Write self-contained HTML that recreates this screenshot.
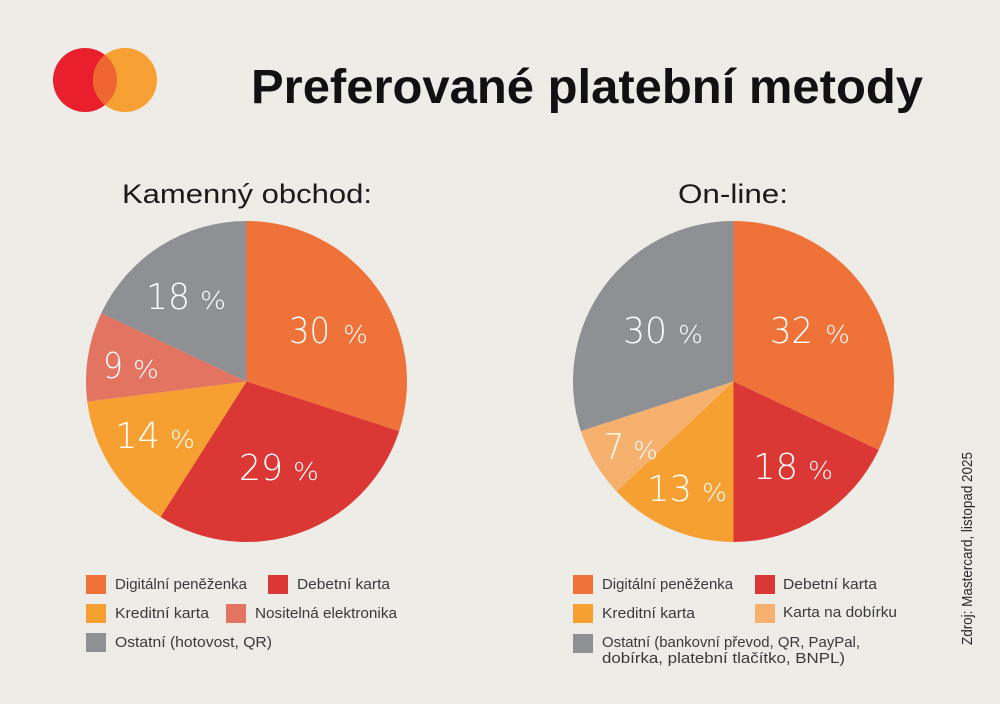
<!DOCTYPE html>
<html>
<head>
<meta charset="utf-8">
<style>
html,body{margin:0;padding:0;background:#EEECE7;}
svg{display:block;}
text{font-family:"Liberation Sans",sans-serif;}
.num{font-family:"DejaVu Sans","Liberation Sans",sans-serif;font-weight:200;}
</style>
</head>
<body>
<svg width="1000" height="704" viewBox="0 0 1000 704" xmlns="http://www.w3.org/2000/svg">
<rect x="0" y="0" width="1000" height="704" fill="#EEECE7"/>

<!-- logo -->
<circle cx="85" cy="80" r="32" fill="#EA1F2E"/>
<circle cx="125" cy="80" r="32" fill="#F7A033"/>
<path d="M105,55 A32,32 0 0 1 105,105 A32,32 0 0 1 105,55 Z" fill="#EF6630"/>

<!-- title -->
<text x="251" y="103" font-size="48" font-weight="bold" fill="#111114" textLength="672" lengthAdjust="spacingAndGlyphs">Preferované platební metody</text>

<!-- subtitles -->
<text x="122" y="203" font-size="27" fill="#1a1a1a" textLength="250" lengthAdjust="spacingAndGlyphs">Kamenný obchod:</text>
<text x="678" y="203" font-size="27" fill="#1a1a1a" textLength="110" lengthAdjust="spacingAndGlyphs">On-line:</text>

<!-- left pie -->
<g>
<path d="M246.5,381.5 L246.5,221 A160.5,160.5 0 0 1 399.15,431.1 Z" fill="#EF7338"/>
<path d="M246.5,381.5 L399.15,431.1 A160.5,160.5 0 0 1 160.5,517.0 Z" fill="#DB3734"/>
<path d="M246.5,381.5 L160.5,517.0 A160.5,160.5 0 0 1 87.27,401.62 Z" fill="#F7A032"/>
<path d="M246.5,381.5 L87.27,401.62 A160.5,160.5 0 0 1 101.27,313.16 Z" fill="#E27461"/>
<path d="M246.5,381.5 L101.27,313.16 A160.5,160.5 0 0 1 246.5,221 Z" fill="#8F9094"/>
</g>
<g fill="#ffffff">
<text class="num" x="289" y="343" font-size="36" textLength="41" lengthAdjust="spacingAndGlyphs">30</text>
<text class="num" x="343" y="343" font-size="25" textLength="25" lengthAdjust="spacingAndGlyphs">%</text>
<text class="num" x="146" y="309" font-size="36" textLength="44" lengthAdjust="spacingAndGlyphs">18</text>
<text class="num" x="200" y="309" font-size="25" textLength="26" lengthAdjust="spacingAndGlyphs">%</text>
<text class="num" x="103" y="378" font-size="36" textLength="20" lengthAdjust="spacingAndGlyphs">9</text>
<text class="num" x="133" y="378" font-size="25" textLength="26" lengthAdjust="spacingAndGlyphs">%</text>
<text class="num" x="115" y="448" font-size="36" textLength="45" lengthAdjust="spacingAndGlyphs">14</text>
<text class="num" x="170" y="448" font-size="25" textLength="25" lengthAdjust="spacingAndGlyphs">%</text>
<text class="num" x="239" y="480" font-size="36" textLength="44" lengthAdjust="spacingAndGlyphs">29</text>
<text class="num" x="293" y="480" font-size="25" textLength="26" lengthAdjust="spacingAndGlyphs">%</text>
</g>

<!-- right pie -->
<g>
<path d="M733.5,381.5 L733.5,221 A160.5,160.5 0 0 1 878.73,449.84 Z" fill="#EF7338"/>
<path d="M733.5,381.5 L878.73,449.84 A160.5,160.5 0 0 1 733.5,542 Z" fill="#DB3734"/>
<path d="M733.5,381.5 L733.5,542 A160.5,160.5 0 0 1 616.5,491.37 Z" fill="#F7A032"/>
<path d="M733.5,381.5 L616.5,491.37 A160.5,160.5 0 0 1 580.85,431.1 Z" fill="#F5B16D"/>
<path d="M733.5,381.5 L580.85,431.1 A160.5,160.5 0 0 1 733.5,221 Z" fill="#8F9094"/>
</g>
<g fill="#ffffff">
<text class="num" x="623" y="343" font-size="36" textLength="44" lengthAdjust="spacingAndGlyphs">30</text>
<text class="num" x="678" y="343" font-size="25" textLength="25" lengthAdjust="spacingAndGlyphs">%</text>
<text class="num" x="770" y="343" font-size="36" textLength="43" lengthAdjust="spacingAndGlyphs">32</text>
<text class="num" x="825" y="343" font-size="25" textLength="25" lengthAdjust="spacingAndGlyphs">%</text>
<text class="num" x="604" y="459" font-size="36" textLength="20" lengthAdjust="spacingAndGlyphs">7</text>
<text class="num" x="633" y="459" font-size="25" textLength="25" lengthAdjust="spacingAndGlyphs">%</text>
<text class="num" x="647" y="501" font-size="36" textLength="45" lengthAdjust="spacingAndGlyphs">13</text>
<text class="num" x="702" y="501" font-size="25" textLength="25" lengthAdjust="spacingAndGlyphs">%</text>
<text class="num" x="753" y="479" font-size="36" textLength="45" lengthAdjust="spacingAndGlyphs">18</text>
<text class="num" x="808" y="479" font-size="25" textLength="25" lengthAdjust="spacingAndGlyphs">%</text>
</g>

<!-- left legend -->
<g font-size="15" fill="#3a3a3c">
<rect x="86" y="575" width="20" height="19" fill="#EF7338"/>
<text x="115" y="589" textLength="132" lengthAdjust="spacingAndGlyphs">Digitální peněženka</text>
<rect x="268" y="575" width="20" height="19" fill="#DB3734"/>
<text x="297" y="589" textLength="93" lengthAdjust="spacingAndGlyphs">Debetní karta</text>
<rect x="86" y="604" width="20" height="19" fill="#F7A032"/>
<text x="115" y="618" textLength="94" lengthAdjust="spacingAndGlyphs">Kreditní karta</text>
<rect x="226" y="604" width="20" height="19" fill="#E27461"/>
<text x="255" y="618" textLength="142" lengthAdjust="spacingAndGlyphs">Nositelná elektronika</text>
<rect x="86" y="633" width="20" height="19" fill="#8F9094"/>
<text x="115" y="647" textLength="157" lengthAdjust="spacingAndGlyphs">Ostatní (hotovost, QR)</text>
</g>

<!-- right legend -->
<g font-size="15" fill="#3a3a3c">
<rect x="573" y="575" width="20" height="19" fill="#EF7338"/>
<text x="602" y="589" textLength="131" lengthAdjust="spacingAndGlyphs">Digitální peněženka</text>
<rect x="755" y="575" width="20" height="19" fill="#DB3734"/>
<text x="783" y="589" textLength="94" lengthAdjust="spacingAndGlyphs">Debetní karta</text>
<rect x="573" y="604" width="20" height="19" fill="#F7A032"/>
<text x="602" y="618" textLength="93" lengthAdjust="spacingAndGlyphs">Kreditní karta</text>
<rect x="755" y="604" width="20" height="19" fill="#F5B16D"/>
<text x="783" y="617" textLength="114" lengthAdjust="spacingAndGlyphs">Karta na dobírku</text>
<rect x="573" y="634" width="20" height="19" fill="#8F9094"/>
<text x="602" y="647" textLength="258" lengthAdjust="spacingAndGlyphs">Ostatní (bankovní převod, QR, PayPal,</text>
<text x="602" y="663" textLength="243" lengthAdjust="spacingAndGlyphs">dobírka, platební tlačítko, BNPL)</text>
</g>

<!-- source -->
<text transform="translate(972,645) rotate(-90)" x="0" y="0" font-size="15" fill="#2a2a2c" textLength="193" lengthAdjust="spacingAndGlyphs">Zdroj: Mastercard, listopad 2025</text>
</svg>
</body>
</html>
